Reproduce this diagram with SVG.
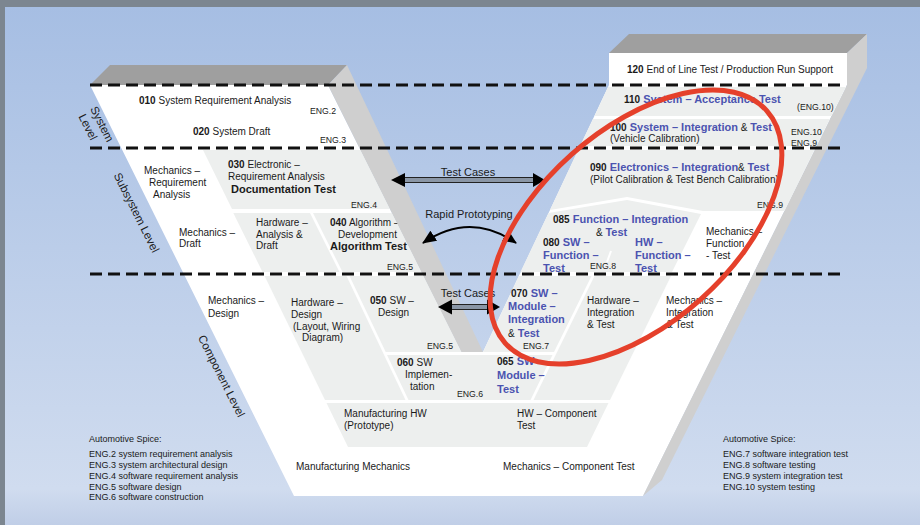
<svg xmlns="http://www.w3.org/2000/svg" width="920" height="525" viewBox="0 0 920 525">
<defs>
<linearGradient id="bg" x1="0" y1="0" x2="0" y2="1">
<stop offset="0" stop-color="#a6bee3"/>
<stop offset="0.93" stop-color="#d0dcef"/>
<stop offset="1" stop-color="#c0cee7"/>
</linearGradient>
<marker id="ah" viewBox="0 0 14 12" refX="13" refY="6" markerWidth="14" markerHeight="12" markerUnits="userSpaceOnUse" orient="auto-start-reverse">
<path d="M0,0 L14,6 L0,12 z" fill="#000"/>
</marker>
<style>
text{font-family:"Liberation Sans",Arial,sans-serif;font-size:10px;fill:#1a1a1a}
.b{font-weight:bold}
.bl{font-weight:bold;fill:#4b53b0;font-size:11px}
.big{font-weight:bold;font-size:11px}
.eng{font-size:8.7px}
.note{font-size:9px}
.lvl{font-size:11.5px}
.al{font-size:11px}
.cell{fill:#edefee}
.dash{stroke:#111;stroke-width:3;stroke-dasharray:12 6;fill:none}
.top{fill:#9f9f9f}
.side{fill:#cfcfcf}
</style>
</defs>

<rect x="0" y="0" width="920" height="525" fill="#7c8690"/>
<rect x="5" y="7" width="915" height="518" fill="url(#bg)"/>

<g id="v-shape">
<polygon points="90,85 328,85 461.5,352 483,352 609,85 609,53 847,53 847,85 643,496 294,496" fill="#fff"/>
<polygon class="top" points="90,85 110,65 347,65 328,85"/>
<polygon class="top" points="609,53 629,34 867,34 847,53"/>
<polygon class="side" points="847,53 867,34 867,68 662,480 643,496 847,85"/>
</g>

<g id="n010"><text x="139" y="104"><tspan class="b">010</tspan> System Requirement Analysis</text><text class="eng" x="310" y="114">ENG.2</text></g>
<g id="n020"><text x="193" y="135"><tspan class="b">020</tspan> System Draft</text><text class="eng" x="320" y="143">ENG.3</text></g>
<g id="mech-req"><text x="144" y="174">Mechanics –</text><text x="149" y="186">Requirement</text><text x="153" y="198">Analysis</text></g>
<g id="n030"><polygon class="cell" points="203,150 360.5,150 390,209 232,209"/><text x="228" y="168"><tspan class="b">030</tspan> Electronic –</text><text x="228" y="180">Requirement Analysis</text><text class="big" x="231" y="193">Documentation Test</text><text class="eng" x="351" y="208">ENG.4</text></g>
<g id="mech-draft"><text x="179" y="236">Mechanics –</text><text x="179" y="247">Draft</text></g>
<g id="hw-analysis"><polygon class="cell" points="233.3,213 310,213 339.5,272 262.5,272"/><text x="256" y="226">Hardware –</text><text x="256" y="238">Analysis &amp;</text><text x="256" y="249">Draft</text></g>
<g id="n040"><polygon class="cell" points="313,213 392,213 421.5,272 342.5,272"/><text x="330" y="226"><tspan class="b">040</tspan> Algorithm –</text><text x="338" y="238">Development</text><text class="big" x="330" y="250">Algorithm Test</text><text class="eng" x="387" y="270">ENG.5</text></g>
<g id="mech-design"><text x="208" y="304">Mechanics –</text><text x="208" y="317">Design</text></g>
<g id="hw-design"><polygon class="cell" points="264.6,276 346.5,276 405.5,400 325,400"/><text x="291" y="306">Hardware –</text><text x="291" y="318">Design</text><text x="293" y="330">(Layout, Wiring</text><text x="302" y="341">Diagram)</text></g>
<g id="n050"><polygon class="cell" points="349.5,276 423.5,276 461.5,352 385.7,352"/><text x="370" y="304"><tspan class="b">050</tspan> SW –</text><text x="378" y="316">Design</text><text class="eng" x="427" y="349">ENG.5</text></g>
<g id="n060-065"><polygon class="cell" points="387,355 552.5,355 530.5,400 408.5,400"/>
<text x="397" y="366"><tspan class="b">060</tspan> SW</text><text x="405" y="378">Implemen-</text><text x="410" y="390">tation</text><text class="eng" x="457" y="397">ENG.6</text>
<text x="497" y="365"><tspan class="b">065</tspan><tspan class="bl"> SW –</tspan></text><text class="bl" x="497" y="379">Module –</text><text class="bl" x="497" y="393">Test</text></g>
<g id="hw-manufacturing"><polygon class="cell" points="326.5,403 608.5,403 587,447 348,447"/><text x="344" y="417">Manufacturing HW</text><text x="344" y="429">(Prototype)</text><text x="517" y="417">HW – Component</text><text x="517" y="429">Test</text></g>
<g id="mech-bottom"><text x="296" y="470">Manufacturing Mechanics</text><text x="503" y="470">Mechanics – Component Test</text></g>

<g id="n120"><text x="627" y="73"><tspan class="b">120</tspan> End of Line Test / Production Run Support</text></g>
<g id="n110"><polygon class="cell" points="608,87 846,87 831.5,116 594.5,116"/><text x="624" y="103"><tspan class="b">110</tspan><tspan class="bl"> System – Acceptance Test</tspan></text><text class="eng" x="797" y="110">(ENG.10)</text></g>
<g id="n100"><polygon class="cell" points="593,119 830,119 816.5,146 580,146"/><text x="610" y="131"><tspan class="b">100</tspan><tspan class="bl"> System – Integration</tspan> &amp; <tspan class="bl">Test</tspan></text><text x="610" y="142">(Vehicle Calibration)</text><text class="eng" x="791" y="135">ENG.10</text><text class="eng" x="791" y="146">ENG.9</text></g>
<g id="n090"><polygon class="cell" points="578,150 814.5,150 784.5,211 703,211 627,197 550,210"/><text x="590" y="171"><tspan class="b">090</tspan><tspan class="bl"> Electronics – Integration</tspan><tspan>&amp; </tspan><tspan class="bl">Test</tspan></text><text x="590" y="183">(Pilot Calibration &amp; Test Bench Calibration)</text><text class="eng" x="757" y="208">ENG.9</text></g>
<g id="n085"><polygon class="cell" points="548.5,213 627,200 701,214 672,272 520.5,272"/><line x1="611" y1="251" x2="607" y2="262" stroke="#fff" stroke-width="2"/>
<text x="553" y="223"><tspan class="b">085</tspan><tspan class="bl"> Function – Integration</tspan></text><text x="596" y="236">&amp; <tspan class="bl">Test</tspan></text>
<text x="543" y="246"><tspan class="b">080</tspan><tspan class="bl"> SW –</tspan></text><text class="bl" x="543" y="259">Function –</text><text class="bl" x="543" y="272">Test</text><text class="eng" x="590" y="269">ENG.8</text>
<text class="bl" x="635" y="246">HW –</text><text class="bl" x="635" y="259">Function –</text><text class="bl" x="635" y="272">Test</text></g>
<g id="mech-function"><text x="706" y="235">Mechanics –</text><text x="706" y="247">Function</text><text x="706" y="259">- Test</text></g>
<g id="n070"><polygon class="cell" points="518.8,276 591.5,276 554,352 483,352"/><text x="511" y="297"><tspan class="b">070</tspan><tspan class="bl"> SW –</tspan></text><text class="bl" x="508" y="310">Module –</text><text class="bl" x="508" y="323">Integration</text><text x="508" y="337">&amp;<tspan class="bl"> Test</tspan></text><text class="eng" x="523" y="349">ENG.7</text></g>
<g id="hw-integration"><polygon class="cell" points="594.5,276 671,276 610,400 533.5,400"/><text x="587" y="304">Hardware –</text><text x="587" y="316">Integration</text><text x="587" y="328">&amp; Test</text></g>
<g id="mech-integration"><text x="666" y="304">Mechanics –</text><text x="666" y="316">Integration</text><text x="666" y="328">&amp; Test</text></g>

<g id="inner-side-face"><polygon class="side" points="328,85 347,65 483,352 461.5,352"/></g>

<g id="levels">
<line class="dash" x1="90" y1="85" x2="846" y2="85"/>
<line class="dash" x1="90" y1="148" x2="846" y2="148"/>
<line class="dash" x1="90" y1="274" x2="846" y2="274"/>
<text class="lvl" text-anchor="middle" transform="translate(98.5,125.8) rotate(63.4)">System</text>
<text class="lvl" text-anchor="middle" transform="translate(84.5,128.8) rotate(63.4)">Level</text>
<text class="lvl" text-anchor="middle" transform="translate(133,214.3) rotate(63.4)">Subsystem Level</text>
<text class="lvl" text-anchor="middle" transform="translate(218,377.8) rotate(63.4)">Component Level</text>
</g>

<g id="connectors">
<rect x="404" y="177.5" width="130" height="5" fill="#8a96a6" stroke="#222" stroke-width="1"/>
<polygon points="391,180 405,173 405,187" fill="#000"/>
<polygon points="545,180 533,173 533,187" fill="#000"/>
<text class="al" x="468" y="176" text-anchor="middle">Test Cases</text>
<path d="M423,243 Q470,211 516,243" fill="none" stroke="#000" stroke-width="2" marker-start="url(#ah)" marker-end="url(#ah)"/>
<text class="al" x="469" y="218" text-anchor="middle">Rapid Prototyping</text>
<rect x="451" y="304.5" width="37" height="5" fill="#8a96a6" stroke="#222" stroke-width="1"/>
<polygon points="438,307 452,299.5 452,314.5" fill="#000"/>
<polygon points="500,307 487,299.5 487,314.5" fill="#000"/>
<text class="al" x="468" y="297" text-anchor="middle">Test Cases</text>
</g>

<g id="notes">
<text class="note" x="89" y="442">Automotive Spice:</text>
<text class="note" x="89" y="457">ENG.2 system requirement analysis</text>
<text class="note" x="89" y="468">ENG.3 system architectural design</text>
<text class="note" x="89" y="479">ENG.4 software requirement analysis</text>
<text class="note" x="89" y="490">ENG.5 software design</text>
<text class="note" x="89" y="500">ENG.6 software construction</text>
<text class="note" x="723" y="442">Automotive Spice:</text>
<text class="note" x="723" y="457">ENG.7 software integration test</text>
<text class="note" x="723" y="468">ENG.8 software testing</text>
<text class="note" x="723" y="479">ENG.9 system integration test</text>
<text class="note" x="723" y="490">ENG.10 system testing</text>
</g>

<g id="highlight">
<ellipse cx="636" cy="227" rx="175" ry="97" transform="rotate(-41.6 636 227)" fill="none" stroke="#e5402b" stroke-width="5"/>
</g>
</svg>
